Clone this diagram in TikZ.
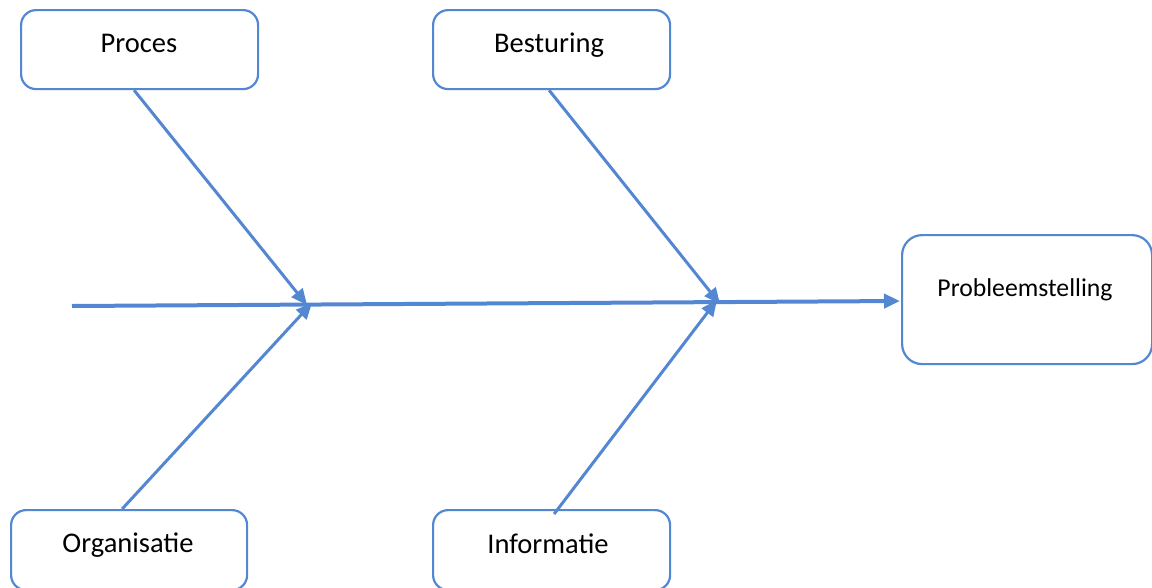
\documentclass[tikz,border=0pt]{standalone}
\usepackage{fontspec}
\setmainfont{Carlito}
\usetikzlibrary{arrows.meta}
\definecolor{fishblue}{RGB}{84,135,210}
\tikzset{
  cause/.style={draw=fishblue, line width=2.2pt, rounded corners=15pt, fill=white},
  causetext/.style={font=\fontsize{28.5}{34}\selectfont, text=black, inner sep=0pt, anchor=base},
  bone/.style={draw=fishblue, line width=3pt, -{Triangle[length=16pt,width=14pt]}},
  spine/.style={draw=fishblue, line width=4pt, -{Triangle[length=16pt,width=14pt]}}
}
\begin{document}
\begin{tikzpicture}[x=1pt,y=-1pt]
  \useasboundingbox (0,0) rectangle (1152,587);

  % cause boxes
  \node[cause, minimum width=237pt, minimum height=79pt, anchor=north west] (proces) at (20,9) {};
  \node[cause, minimum width=237pt, minimum height=79pt, anchor=north west] (besturing) at (432,9) {};
  \node[cause, minimum width=236pt, minimum height=80pt, anchor=north west] (organisatie) at (10,509) {};
  \node[cause, minimum width=237pt, minimum height=80pt, anchor=north west] (informatie) at (432,509) {};
  % effect box
  \node[cause, rounded corners=20pt, minimum width=250pt, minimum height=129pt, anchor=north west] (effect) at (901,234) {};

  % labels, placed on their baselines
  \node[causetext] (tproces) at (139,52) {Proces};
  \node[causetext] (tbesturing) at (549,52) {Besturing};
  \node[causetext] (torganisatie) at (128,552) {Organisatie};
  \node[causetext] (tinformatie) at (548,553) {Informatie};
  \node[causetext, font=\fontsize{25.7}{31}\selectfont] (teffect) at (1025,296) {Probleemstelling};

  % spine
  \coordinate (tail) at (72,306);
  \coordinate (head) at (900,301);
  \coordinate (j1) at (308,304);
  \coordinate (j2) at (719,302);
  \draw[spine] (tail) -- (head);

  % bones
  \draw[bone] ([xshift=-5.5pt]proces.south) -- ([xshift=-1pt,yshift=-1pt]j1);
  \draw[bone] ([xshift=-7pt,yshift=0pt]organisatie.north) -- ([xshift=4pt,yshift=1pt]j1);
  \draw[bone] ([xshift=-2.5pt]besturing.south) -- ([xshift=1pt,yshift=-2pt]j2);
  \draw[bone] ([xshift=2.5pt,yshift=-5pt]informatie.north) -- ([xshift=-2pt,yshift=2pt]j2);
\end{tikzpicture}
\end{document}
